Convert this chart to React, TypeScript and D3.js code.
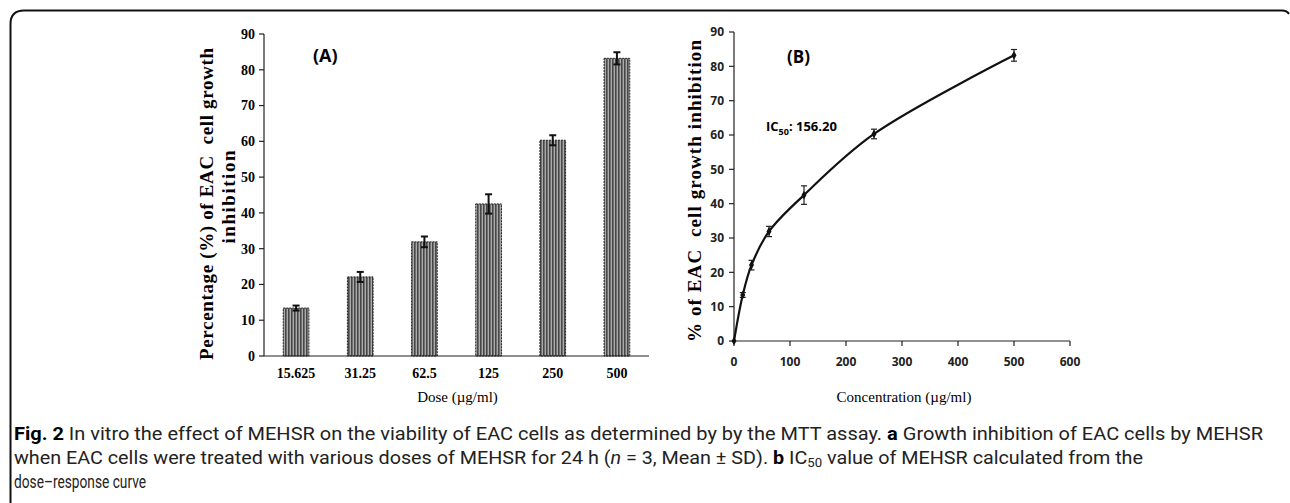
import React from 'react';
import * as d3 from 'd3';

// dose categories (µg/ml) and mean inhibition with SD
const doseLabels = ['15.625', '31.25', '62.5', '125', '250', '500'];
const doseValues = [15.625, 31.25, 62.5, 125, 250, 500];
const inhibition = [13.4, 22.1, 31.9, 42.5, 60.3, 83.2];
const inhibitionSd = [0.7, 1.4, 1.5, 2.7, 1.4, 1.7];
const yTicks = [0, 10, 20, 30, 40, 50, 60, 70, 80, 90];
const xTicksB = [0, 100, 200, 300, 400, 500, 600];

const serif = '"Liberation Serif", "Times New Roman", serif';
const sans = '"Open Sans", "Noto Sans", sans-serif';
const narrow = '"Liberation Sans Narrow", "Roboto", sans-serif';

const App = () => {
  const width = 1290;
  const height = 503;

  // panel A
  const a = { left: 264, right: 649, top: 34, bottom: 356 };
  const xA = d3.scaleBand().domain(doseLabels).range([a.left, a.right]).paddingInner(0.6).paddingOuter(0.3);
  const yA = d3.scaleLinear().domain([0, 90]).range([a.bottom, a.top]);

  // panel B
  const b = { left: 734, right: 1070, top: 32, bottom: 341 };
  const xB = d3.scaleLinear().domain([0, 600]).range([b.left, b.right]);
  const yB = d3.scaleLinear().domain([0, 90]).range([b.bottom, b.top]);
  const pts: [number, number][] = [[0, 0], ...doseValues.map((d, i) => [d, inhibition[i]] as [number, number])];
  const sdB = [0, ...inhibitionSd];
  const line = d3
    .line<[number, number]>()
    .x((d) => xB(d[0]))
    .y((d) => yB(d[1]))
    .curve(d3.curveCatmullRom.alpha(0.5));

  return (
    <svg width={width} height={height} style={{ position: 'absolute', left: 0, top: 0, background: '#fff' }}>
      <defs>
        <pattern id='stripes' width={3} height={4} patternUnits='userSpaceOnUse'>
          <rect width={3} height={4} fill='#ababab' />
          <rect width={1.6} height={4} fill='#474747' />
        </pattern>
      </defs>

      {/* frame */}
      <path d='M10.5,503 L10.5,24 Q10.5,10.5 24,10.5 L1282,10.5 Q1287,10.5 1289,14' fill='none' stroke='#111' strokeWidth={2} />

      {/* ===== panel A ===== */}
      <g>
        {doseLabels.map((d, i) => {
          const x = xA(d)!;
          const w = xA.bandwidth();
          const cx = x + w / 2;
          const top = yA(inhibition[i] + inhibitionSd[i]);
          const bot = yA(inhibition[i] - inhibitionSd[i]);
          return (
            <g key={d}>
              <rect x={x} y={yA(inhibition[i])} width={w} height={a.bottom - yA(inhibition[i])} fill='url(#stripes)' stroke='#222' strokeWidth={1} strokeDasharray='2,1' />
              <line x1={cx} x2={cx} y1={top} y2={bot} stroke='#111' strokeWidth={2} />
              <line x1={cx - 3.5} x2={cx + 3.5} y1={top} y2={top} stroke='#111' strokeWidth={2} />
              <line x1={cx - 3.5} x2={cx + 3.5} y1={bot} y2={bot} stroke='#111' strokeWidth={2} />
            </g>
          );
        })}
        <line x1={a.left} x2={a.left} y1={a.top} y2={a.bottom} stroke='#222' strokeWidth={1.2} />
        <line x1={a.left} x2={a.right} y1={a.bottom} y2={a.bottom} stroke='#222' strokeWidth={1.2} />
        {yTicks.map((t) => (
          <g key={t}>
            <line x1={a.left - 5} x2={a.left} y1={yA(t)} y2={yA(t)} stroke='#222' strokeWidth={1.2} />
            <text x={a.left - 9} y={yA(t)} dy='0.35em' textAnchor='end' fontFamily={serif} fontWeight='bold' fontSize={14}>
              {t}
            </text>
          </g>
        ))}
        {doseLabels.map((d) => (
          <text key={d} x={xA(d)! + xA.bandwidth() / 2} y={a.bottom + 22} textAnchor='middle' fontFamily={serif} fontWeight='bold' fontSize={14}>
            {d}
          </text>
        ))}
        <text x={(a.left + a.right) / 2 + 1} y={402} textAnchor='middle' fontFamily={serif} fontSize={15}>
          Dose (µg/ml)
        </text>
        <text transform='translate(213,204) rotate(-90)' textAnchor='middle' fontFamily={serif} fontWeight='bold' fontSize={19} textLength={312} lengthAdjust='spacing'>
          {'Percentage (%) of EAC\u00a0\u00a0cell growth'}
        </text>
        <text transform='translate(235,197) rotate(-90)' textAnchor='middle' fontFamily={serif} fontWeight='bold' fontSize={19} textLength={93} lengthAdjust='spacing'>
          inhibition
        </text>
        <text x={313} y={62} fontFamily={sans} fontWeight='bold' fontSize={18}>
          (A)
        </text>
      </g>

      {/* ===== panel B ===== */}
      <g>
        <line x1={b.left} x2={b.left} y1={b.top} y2={b.bottom} stroke='#222' strokeWidth={1.2} />
        <line x1={b.left} x2={b.right} y1={b.bottom} y2={b.bottom} stroke='#222' strokeWidth={1.2} />
        {yTicks.map((t) => (
          <g key={t}>
            <line x1={b.left - 5} x2={b.left} y1={yB(t)} y2={yB(t)} stroke='#222' strokeWidth={1.2} />
            <text x={b.left - 10} y={yB(t)} dy='0.35em' textAnchor='end' fontFamily={sans} fontWeight='bold' fontSize={12} fill='#222'>
              {t}
            </text>
          </g>
        ))}
        {xTicksB.map((t) => (
          <g key={t}>
            <line x1={xB(t)} x2={xB(t)} y1={b.bottom} y2={b.bottom + 5} stroke='#222' strokeWidth={1.2} />
            <text x={xB(t)} y={b.bottom + 25} textAnchor='middle' fontFamily={sans} fontWeight='bold' fontSize={12} fill='#222'>
              {t}
            </text>
          </g>
        ))}
        <path d={line(pts) ?? ''} fill='none' stroke='#111' strokeWidth={2.2} />
        {pts.map((p, i) => {
          const cx = xB(p[0]);
          const cy = yB(p[1]);
          const top = yB(p[1] + sdB[i]);
          const bot = yB(p[1] - sdB[i]);
          return (
            <g key={i}>
              {sdB[i] > 0 && (
                <>
                  <line x1={cx} x2={cx} y1={top} y2={bot} stroke='#222' strokeWidth={1.2} />
                  <line x1={cx - 3} x2={cx + 3} y1={top} y2={top} stroke='#222' strokeWidth={1.2} />
                  <line x1={cx - 3} x2={cx + 3} y1={bot} y2={bot} stroke='#222' strokeWidth={1.2} />
                </>
              )}
              <path d={d3.symbol(d3.symbolDiamond, 22)() ?? ''} transform={`translate(${cx},${cy})`} fill='#111' />
            </g>
          );
        })}
        <text x={(b.left + b.right) / 2 + 2} y={402} textAnchor='middle' fontFamily={serif} fontSize={15}>
          Concentration (µg/ml)
        </text>
        <text transform='translate(701,191) rotate(-90)' textAnchor='middle' fontFamily={serif} fontWeight='bold' fontSize={19} textLength={302} lengthAdjust='spacing'>
          {'% of EAC\u00a0\u00a0cell growth inhibition'}
        </text>
        <text x={787} y={63} fontFamily={sans} fontWeight='bold' fontSize={17}>
          (B)
        </text>
        <text x={766} y={131} fontFamily={sans} fontWeight='bold' fontSize={13}>
          IC<tspan fontSize={9} dy={4}>50</tspan>
          <tspan dy={-4}>: 156.20</tspan>
        </text>
      </g>

      {/* caption */}
      <g fontFamily={narrow} fontSize={18} fill='#222'>
        <text x={14} y={440} textLength={1249} lengthAdjust='spacingAndGlyphs'>
          <tspan fontWeight='bold' fill='#000'>Fig. 2</tspan> In vitro the effect of MEHSR on the viability of EAC cells as determined by by the MTT assay.{' '}
          <tspan fontWeight='bold' fill='#000'>a</tspan> Growth inhibition of EAC cells by MEHSR
        </text>
        <text x={14} y={464} textLength={1129} lengthAdjust='spacingAndGlyphs'>
          when EAC cells were treated with various doses of MEHSR for 24 h (<tspan fontStyle='italic'>n</tspan> = 3, Mean ± SD).{' '}
          <tspan fontWeight='bold' fill='#000'>b</tspan> IC<tspan fontSize={12} dy={3}>50</tspan>
          <tspan dy={-3}> value of MEHSR calculated from the</tspan>
        </text>
        <text x={14} y={488} textLength={132} lengthAdjust='spacingAndGlyphs'>
          dose–response curve
        </text>
      </g>
    </svg>
  );
};

export default App;
